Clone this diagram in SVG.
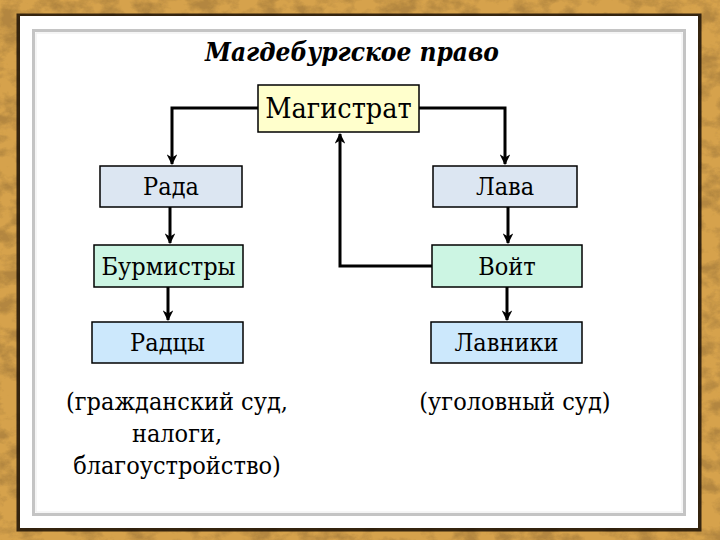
<svg xmlns="http://www.w3.org/2000/svg" width="720" height="540" viewBox="0 0 720 540">
<style>
.box{stroke:#000;stroke-width:1.5}
text{font-family:"DejaVu Serif Condensed","DejaVu Serif","Liberation Serif",serif;font-stretch:condensed;fill:#000;text-anchor:middle}
.lbl{font-size:25px}
.note{font-size:25px}
.title{font-size:26px;font-weight:bold;font-style:italic}
.con{fill:none;stroke:#000;stroke-width:3;marker-end:url(#arr)}
</style>
<defs>
<marker id="arr" viewBox="0 0 10 10" refX="9" refY="5" markerWidth="3.6" markerHeight="3.6" orient="auto" markerUnits="strokeWidth">
<path d="M0,0 L10,5 L0,10 L3,5 Z" fill="#000"/>
</marker>
<filter id="tex" x="0" y="0" width="100%" height="100%">
<feTurbulence type="fractalNoise" baseFrequency="0.05 0.07" numOctaves="5" seed="11" result="n"/>
<feColorMatrix in="n" type="matrix" values="0 0 0 0 0.45  0 0 0 0 0.24  0 0 0 0 0.05  0 0 0 -3 1.8" result="c"/>
<feComposite in="c" in2="SourceGraphic" operator="in"/>
</filter>
</defs>
<rect x="0" y="0" width="720" height="540" fill="#D6A24C"/>
<rect x="0" y="0" width="720" height="540" fill="#D6A24C" filter="url(#tex)"/>
<rect x="16.5" y="13.5" width="685" height="518" fill="#1a0f05" opacity="0.85"/>
<rect x="20" y="16" width="678" height="512" fill="#ffffff"/>
<rect x="33.5" y="30.5" width="651" height="484" fill="none" stroke="#c4c4c4" stroke-width="3"/>
<rect x="36" y="33" width="646" height="479" fill="none" stroke="#ececec" stroke-width="1"/>
<text class="title" x="352" y="61">Магдебургское право</text>
<g id="connectors">
<path class="con" d="M258,108 H172 V164"/>
<path class="con" d="M419,108 H505 V164"/>
<path class="con" d="M432,266 H340 V134"/>
<path class="con" d="M170,207 V243"/>
<path class="con" d="M168,287 V320"/>
<path class="con" d="M508,207 V243"/>
<path class="con" d="M507,287 V320"/>
</g>
<g id="magistrat"><rect class="box" x="258" y="85" width="161" height="47" fill="#FFFFCC"/><text class="lbl" x="338.5" y="118" style="font-size:28.5px">Магистрат</text></g>
<g id="rada"><rect class="box" x="100" y="166" width="142" height="41" fill="#DCE6F2"/><text class="lbl" x="171" y="195">Рада</text></g>
<g id="lava"><rect class="box" x="433" y="166" width="144" height="41" fill="#DCE6F2"/><text class="lbl" x="505" y="195">Лава</text></g>
<g id="burmistry"><rect class="box" x="94" y="245" width="149" height="42" fill="#CCF5E3"/><text class="lbl" x="168.5" y="275">Бурмистры</text></g>
<g id="voit"><rect class="box" x="432" y="245" width="150" height="42" fill="#CCF5E3"/><text class="lbl" x="507" y="275">Войт</text></g>
<g id="radcy"><rect class="box" x="92" y="322" width="151" height="41" fill="#CCE8FC"/><text class="lbl" x="167.5" y="351">Радцы</text></g>
<g id="lavniki"><rect class="box" x="431" y="322" width="151" height="41" fill="#CCE8FC"/><text class="lbl" x="506.5" y="351">Лавники</text></g>
<g id="note-left">
<text class="note" x="177" y="410">(гражданский суд,</text>
<text class="note" x="177" y="442">налоги,</text>
<text class="note" x="177" y="474">благоустройство)</text>
</g>
<g id="note-right"><text class="note" x="515" y="410">(уголовный суд)</text></g>
</svg>
